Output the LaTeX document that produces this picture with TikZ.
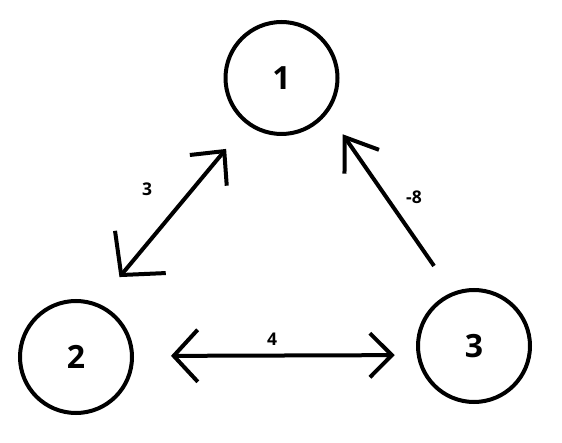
\documentclass[tikz,border=0pt]{standalone}
\usepackage{fontspec}
\setmainfont{Open Sans}
\usetikzlibrary{arrows.meta}
\begin{document}
\begin{tikzpicture}[x=1pt,y=-1pt,
  vertex/.style={circle,draw,line width=4pt,minimum size=112pt,inner sep=0pt,
    font=\fontsize{32}{36}\selectfont\bfseries},
  conn/.style={line width=4pt},
  wlabel/.style={inner sep=0pt,font=\fontsize{17.5}{20}\selectfont\bfseries}]
\useasboundingbox (0,0) rectangle (562,443);
\node[vertex] (n1) at (281.5,78) {1};
\node[vertex] (n2) at (76,357) {2};
\node[vertex] (n3) at (474,346) {3};
% 2 <-> 1
\draw[conn,{Straight Barb[length=30pt,width=66pt]}-{Straight Barb[length=25pt,width=48pt]},
  shorten <=34pt, shorten >=32pt] (n2.68.5) -- (n1.233);
% 3 -> 1
\draw[conn,-{Straight Barb[length=30pt,width=42pt]},
  shorten <=32pt, shorten >=26pt] (n3.112.2) -- (n1.323.5);
% 2 <-> 3
\draw[conn,{Straight Barb[length=24pt,width=52pt]}-{Straight Barb[length=22pt,width=44pt]},
  shorten <=37pt, shorten >=22pt] (n2.1.5) -- (n3.189.4);
\node[wlabel] (l21) at (147,189) {3};
\node[wlabel] (l31) at (414,197) {-8};
\node[wlabel] (l23) at (272,339) {4};
\end{tikzpicture}
\end{document}
